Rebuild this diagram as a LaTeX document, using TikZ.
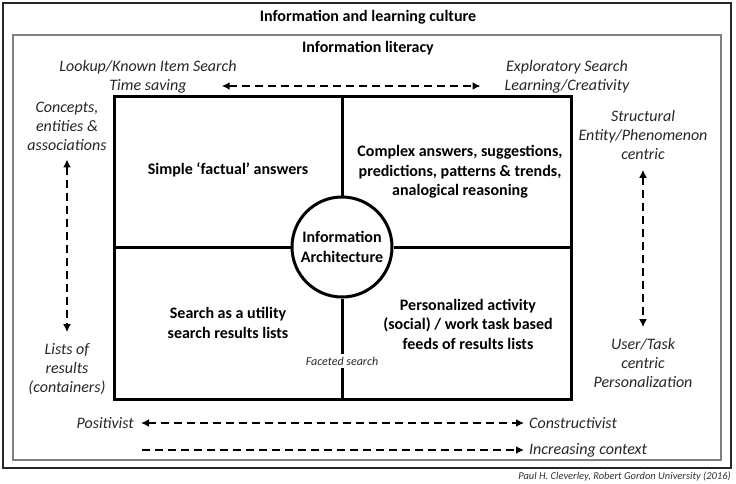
\documentclass[tikz,border=0pt]{standalone}
\usepackage{fontspec}
\setmainfont{Carlito}
\usetikzlibrary{arrows.meta,positioning}

\begin{document}
\begin{tikzpicture}[x=1pt, y=-1pt,
  lab/.style={font=\itshape\fontsize{16}{19}\selectfont, align=center, inner sep=0pt, text=black!85},
  quad/.style={font=\bfseries\fontsize{16}{19.5}\selectfont, align=center, inner sep=0pt},
  head/.style={font=\bfseries\fontsize{16}{19}\selectfont, inner sep=0pt},
  frame/.style={line width=3pt},
  dasharrow/.style={line width=2.2pt, dash pattern=on 8pt off 5pt, -{Latex[length=8pt,width=8pt]}},
  twoway/.style={dasharrow, {Latex[length=8pt,width=8pt]}-{Latex[length=8pt,width=8pt]}}
]
\useasboundingbox (0,0) rectangle (736,484);

% --- outer frames ---
\draw[line width=1.2pt, black!85] (3,3) rectangle (731,468);
\draw[line width=1.8pt, black!50] (13,35) rectangle (721,460);
\node[head] (title) at (368,17) {Information and learning culture};
\node[head] (lit) at (368,48) {Information literacy};

% --- quadrant box and centre circle ---
\node[draw, frame, minimum width=457pt, minimum height=302pt, inner sep=0pt] (box) at (342.5,248) {};
\node[draw, frame, circle, minimum size=100pt, inner sep=0pt, font=\bfseries\fontsize{16}{20}\selectfont, align=center] (ia) at (342,247) {Information\\Architecture};
\node[font=\itshape\fontsize{12}{14}\selectfont, inner sep=3pt, text=black!85] (fac) at (342,361) {Faceted search};

\draw[frame] (box.north -| ia) -- (ia.north);
\draw[frame] (ia.south) -- (fac.north);
\draw[frame] (fac.south) -- (box.south -| ia);
\draw[frame] (box.west |- ia) -- (ia.west);
\draw[frame] (ia.east) -- (box.east |- ia);

\node[quad] (q1) at (228,170) {Simple ‘factual’ answers};
\node[quad] (q2) at (460,172) {Complex answers, suggestions,\\predictions, patterns \& trends,\\analogical reasoning};
\node[quad] (q3) at (228,323) {Search as a utility\\search results lists};
\node[quad] (q4) at (468,324) {Personalized activity\\(social) / work task based\\feeds of results lists};

% --- top axis ---
\node[lab] (lookup) at (148,67) {Lookup/Known Item Search};
\node[lab] (time) at (148,86) {Time saving};
\node[lab] (explore) at (567,67) {Exploratory Search};
\node[lab] (learn) at (567,86) {Learning/Creativity};
\draw[twoway, shorten <=35pt, shorten >=24pt] (time) -- (learn);

% --- left axis ---
\node[lab] (concepts) at (67,126) {Concepts,\\entities \&\\associations};
\node[lab] (lists) at (67,369) {Lists of\\results\\(containers)};
\draw[twoway, shorten <=9pt, shorten >=11pt] (concepts) -- (lists);

% --- right axis ---
\node[lab] (struct) at (643,135) {Structural\\Entity/Phenomenon\\centric};
\node[lab] (user) at (643,363) {User/Task\\centric\\Personalization};
\draw[twoway, shorten <=10pt, shorten >=11pt] (struct) -- (user);

% --- bottom axes ---
\node[lab, anchor=east] (posit) at (134,423) {Positivist};
\node[lab, anchor=west] (constr) at (529,423) {Constructivist};
\draw[twoway, shorten <=7pt, shorten >=5pt] (posit) -- (constr);
\coordinate (ctxstart) at (142,450);
\node[lab, anchor=west] (context) at (529,450) {Increasing context};
\draw[dasharrow, shorten >=5pt] (ctxstart) -- (context);

\node[font=\itshape\fontsize{10.5}{12}\selectfont, anchor=east, inner sep=0pt, text=black!80] (credit) at (731,477) {Paul H. Cleverley, Robert Gordon University (2016)};
\end{tikzpicture}
\end{document}
